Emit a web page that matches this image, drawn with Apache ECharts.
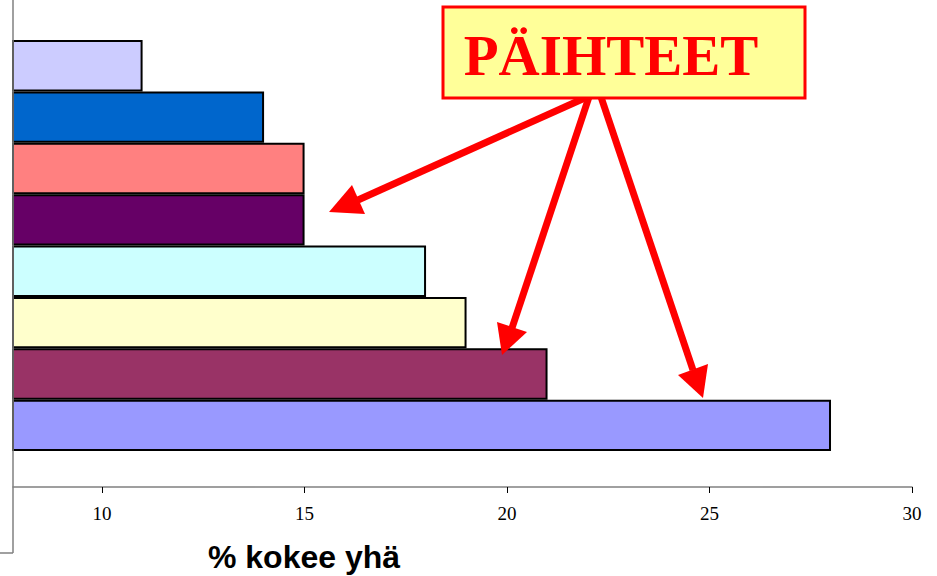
<!DOCTYPE html>
<html>
<head>
<meta charset="utf-8">
<script src="https://cdn.jsdelivr.net/npm/echarts@6/dist/echarts.min.js"></script>
<style>html,body{margin:0;padding:0;background:#fff;}#c{width:937px;height:576px;}</style>
</head>
<body>
<div id="c"></div>
<script>
const categories = ['Ryhmä 1','Ryhmä 2','Ryhmä 3','Ryhmä 4','Ryhmä 5','Ryhmä 6','Ryhmä 7','Ryhmä 8'];
const values = [11, 14, 15, 15, 18, 19, 21, 28];
const tickValues = [10, 15, 20, 25, 30];
const axisTitle = '% kokee yhä';
const calloutText = 'PÄIHTEET';
const barColors = ['#CCCCFF','#0066CC','#FF8080','#660066','#CCFFFF','#FFFFCC','#993366','#9999FF'];

const chart = echarts.init(document.getElementById('c'), null, {renderer: 'svg'});

function arrow(x1, y1, bx, by, tx, ty, p1x, p1y, p2x, p2y) {
  return [
    {type: 'line', shape: {x1: x1, y1: y1, x2: bx, y2: by}, style: {stroke: '#FF0000', lineWidth: 7}, z: 100},
    {type: 'polygon', shape: {points: [[tx, ty], [p1x, p1y], [p2x, p2y]]}, style: {fill: '#FF0000'}, z: 101}
  ];
}

const graphics = [
  {type: 'line', shape: {x1: 13, y1: 0, x2: 13, y2: 553}, style: {stroke: '#808080', lineWidth: 1.5}, z: 50},
  {type: 'line', shape: {x1: 0, y1: 553, x2: 13, y2: 553}, style: {stroke: '#808080', lineWidth: 1.5}, z: 50},
  {type: 'rect', shape: {x: 443, y: 7, width: 362, height: 91}, style: {fill: '#FFFF99', stroke: '#FF0000', lineWidth: 3}, z: 102},
  {type: 'text', x: 611, y: 55, style: {text: calloutText, fill: '#FF0000', font: 'bold 57px "Liberation Serif"', align: 'center', verticalAlign: 'middle'}, z: 103},
  {type: 'text', x: 304, y: 557, style: {text: axisTitle, fill: '#000', font: 'bold 32px "Liberation Sans"', align: 'center', verticalAlign: 'middle'}, z: 103}
].concat(
  arrow(587, 97, 358, 200, 329, 212, 352, 185, 365, 214),
  arrow(589, 97, 512, 328, 502, 355, 497, 322, 527, 332),
  arrow(601, 97, 693, 370, 703, 398, 678, 375, 708, 364)
);

chart.setOption({
  animation: false,
  grid: {left: 13, right: 25, top: 40, bottom: 125, containLabel: false},
  xAxis: {
    type: 'value', min: 7.8, max: 30, offset: 36,
    axisLine: {show: true, lineStyle: {color: '#808080', width: 1.5}},
    axisTick: {show: true, customValues: tickValues, length: 6, lineStyle: {color: '#000', width: 1}},
    axisLabel: {customValues: tickValues, color: '#000', fontFamily: 'Liberation Serif', fontSize: 19, margin: 17},
    splitLine: {show: false}
  },
  yAxis: {
    type: 'category', data: categories, inverse: true,
    axisLine: {show: false}, axisTick: {show: false}, axisLabel: {show: false}, splitLine: {show: false}
  },
  series: [{
    type: 'bar',
    barWidth: '100%',
    barCategoryGap: 0,
    data: values.map((v, i) => ({value: v, itemStyle: {color: barColors[i]}})),
    itemStyle: {borderColor: '#000', borderWidth: 2}
  }],
  graphic: graphics
});
</script>
</body>
</html>
